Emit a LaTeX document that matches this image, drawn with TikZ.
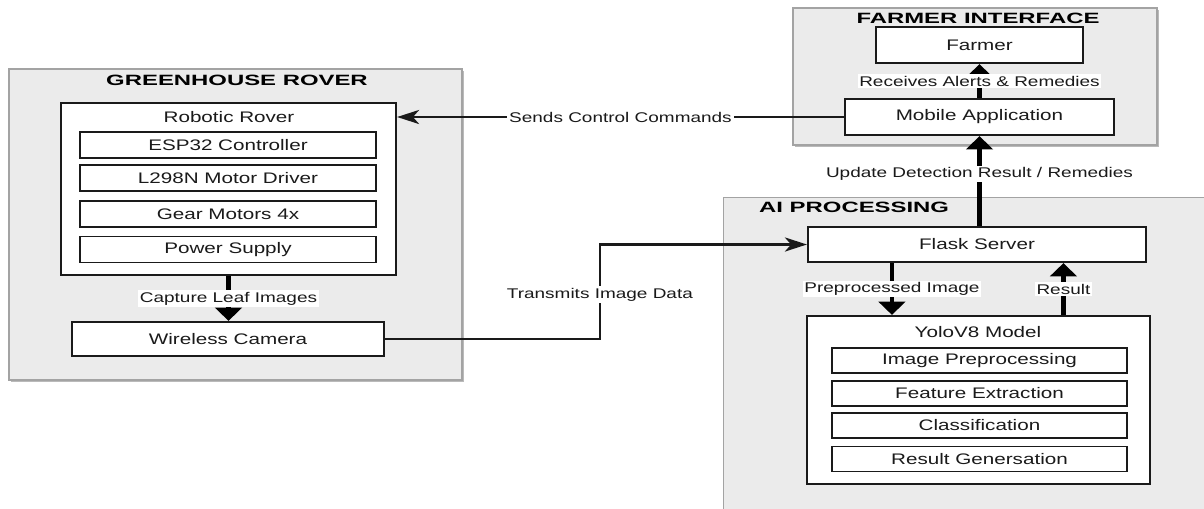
\documentclass[tikz,border=0pt]{standalone}
\usepackage{fontspec}
\setmainfont{Liberation Sans}[FakeStretch=1.35]
\newfontfamily\headfont{Liberation Sans}[FakeStretch=1.6]
\usetikzlibrary{positioning,arrows.meta,calc,shadows}
\definecolor{ink}{HTML}{1A1A1A}
\definecolor{panelfill}{HTML}{EBEBEB}
\definecolor{paneldraw}{HTML}{A3A3A3}
\definecolor{shade}{HTML}{8C8C8C}
\tikzset{
  panel/.style={draw=paneldraw,fill=panelfill,line width=0.8pt,inner sep=0pt,
    drop shadow={shadow xshift=1.2pt,shadow yshift=-1.2pt,fill=shade,opacity=0.6}},
  box/.style={draw=ink,fill=white,line width=1.3pt,inner sep=0pt,font=\fontsize{8.7}{10}\selectfont,text=ink},
  subbox/.style={box,line width=1.1pt,minimum width=5.92cm,minimum height=0.52cm},
  head/.style={font=\headfont\bfseries\fontsize{8.5}{10}\selectfont,text=black},
  plain/.style={font=\fontsize{8.7}{10}\selectfont,text=ink},
  lbl/.style={font=\fontsize{8}{9}\selectfont,text=ink,fill=white,inner sep=1pt},
  flow/.style={-{Stealth[length=12.5pt,width=8pt,inset=3.5pt]},draw=ink,line width=1.5pt},
  bigflow/.style={-{Triangle[length=7.5pt,width=15pt]},draw=black,line width=2.6pt}}
\begin{document}
\begin{tikzpicture}[x=0.02cm,y=-0.02cm]
  \clip (0,0) rectangle (1204,508);
  \fill[white] (0,0) rectangle (1204,508);
  % greenhouse rover
  \node[panel,minimum width=9.06cm,minimum height=6.22cm] (gh) at (235.5,224.5) {};
  \node[head] (ghtitle) at (237,80) {GREENHOUSE ROVER};
  \node[box,minimum width=6.7cm,minimum height=3.44cm] (rover) at (228.5,189) {};
  \node[plain] (rovertxt) at (229,117) {Robotic Rover};
  \node[subbox] (esp) at (228,145) {ESP32 Controller};
  \node[subbox] (driver) at (228,178) {L298N Motor Driver};
  \node[subbox] (motors) at (228,214) {Gear Motors 4x};
  \node[subbox] (power) at (228,249.5) {Power Supply};
  \node[box,minimum width=6.24cm,minimum height=0.68cm] (camera) at (228,339) {Wireless Camera};
  \draw[bigflow] (rover.south) -- node[lbl]{Capture Leaf Images} (rover.south |- camera.north);
  % farmer interface
  \node[panel,minimum width=7.28cm,minimum height=2.74cm] (fi) at (975,76.5) {};
  \node[head] (fititle) at (978,18) {FARMER INTERFACE};
  \node[box,minimum width=4.14cm,minimum height=0.72cm] (farmer) at (979.5,45) {Farmer};
  \node[box,minimum width=5.38cm,minimum height=0.72cm] (mobile) at (979.5,117) {Mobile Application};
  \draw[bigflow] (mobile.north) -- node[lbl]{Receives Alerts \& Remedies} (farmer.south);
  % ai processing
  \node[panel,minimum width=9.9cm,minimum height=6.5cm,anchor=north west] (ai) at (723,197) {};
  \node[head,anchor=west] (aititle) at (753,207) {AI PROCESSING};
  \node[box,minimum width=6.76cm,minimum height=0.7cm] (flask) at (977,244.5) {Flask Server};
  \node[box,minimum width=6.86cm,minimum height=3.36cm] (yolo) at (978.5,400) {};
  \node[plain] (yolotxt) at (978,332) {YoloV8 Model};
  \node[subbox,minimum width=5.9cm,minimum height=0.5cm] (prep) at (979.5,360.5) {Image Preprocessing};
  \node[subbox,minimum width=5.9cm,minimum height=0.5cm] (feat) at (979.5,393.5) {Feature Extraction};
  \node[subbox,minimum width=5.9cm,minimum height=0.5cm] (cls) at (979.5,425.5) {Classification};
  \node[subbox,minimum width=5.9cm,minimum height=0.5cm] (resgen) at (979.5,459) {Result Genersation};
  \coordinate (prepout) at ($(flask.south west)!0.25!(flask.south east)$);
  \coordinate (resout) at ($(yolo.north west)!0.746!(yolo.north east)$);
  \draw[bigflow] (prepout) -- node[lbl]{Preprocessed Image} (prepout |- yolo.north);
  \draw[bigflow] (resout) -- node[lbl]{Result} (resout |- flask.south);
  % links between the blocks
  \draw[bigflow] (flask.north -| mobile.south) -- node[lbl,pos=0.58]{Update Detection Result / Remedies} (mobile.south);
  \draw[flow] (mobile.west) -- node[lbl]{Sends Control Commands} (mobile.west -| rover.east);
  \coordinate (xfer) at ($(flask.west)+(-207,0)$);
  \draw[flow] (camera.east) -| node[lbl,pos=0.735]{Transmits Image Data} (xfer) -- (flask.west);
\end{tikzpicture}
\end{document}
